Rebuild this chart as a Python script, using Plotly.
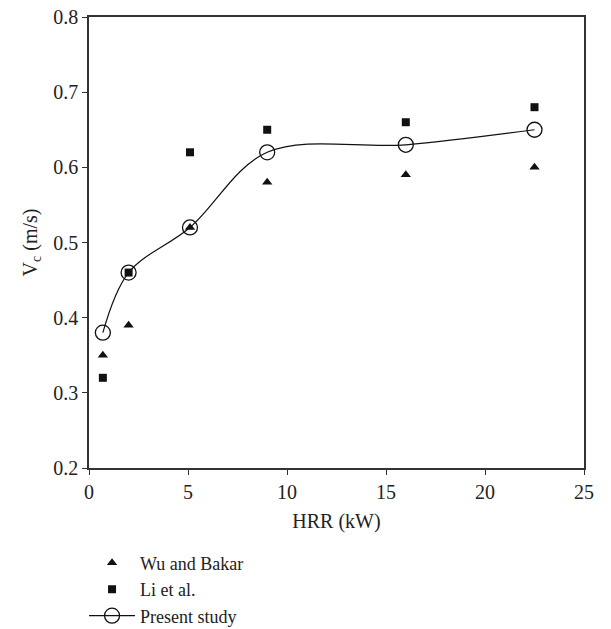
import plotly.graph_objects as go

hrr = [0.7, 2.0, 5.1, 9.0, 16.0, 22.5]
wu_bakar = [0.35, 0.39, 0.52, 0.58, 0.59, 0.60]
li_et_al = [0.32, 0.46, 0.62, 0.65, 0.66, 0.68]
present = [0.38, 0.46, 0.52, 0.62, 0.63, 0.65]

FONT = "Liberation Serif, Times New Roman, DejaVu Serif, serif"
TXT = "#222"
FS = 20
fig = go.Figure()
fig.add_trace(go.Scatter(x=hrr, y=wu_bakar, mode="markers", name="Wu and Bakar",
                         marker=dict(symbol="triangle-up", size=9, color="#111")))
fig.add_trace(go.Scatter(x=hrr, y=li_et_al, mode="markers", name="Li et al.",
                         marker=dict(symbol="square", size=8, color="#111")))
fig.add_trace(go.Scatter(x=hrr, y=present, mode="lines+markers", name="Present study",
                         line=dict(shape="spline", smoothing=1.0, color="#111", width=1.2),
                         marker=dict(symbol="circle-open", size=15, color="#111",
                                     line=dict(width=1.3))))

axis_common = dict(showline=True, linecolor="#333", linewidth=1.5, mirror=True,
                   ticks="outside", ticklen=5, tickcolor="#333", showgrid=False,
                   zeroline=False, tickfont=dict(family=FONT, size=FS, color=TXT))
fig.update_xaxes(range=[0, 25], dtick=5,
                 title=dict(text="HRR (kW)", font=dict(family=FONT, size=FS, color=TXT), standoff=12),
                 **axis_common)
fig.update_yaxes(range=[0.2, 0.8], dtick=0.1, tickformat=".1f",
                 title=dict(text="V<sub>c</sub> (m/s)", font=dict(family=FONT, size=FS, color=TXT), standoff=10),
                 **axis_common)

fig.update_layout(
    width=611, height=629,
    margin=dict(l=89, r=27, t=17, b=161, autoexpand=False),
    plot_bgcolor="white", paper_bgcolor="white",
    font=dict(family=FONT, size=FS, color=TXT),
    legend=dict(x=-0.010, y=-0.17, xanchor="left", yanchor="top",
                font=dict(family=FONT, size=18, color=TXT),
                tracegroupgap=0, itemwidth=46, bgcolor="rgba(0,0,0,0)"),
)
fig.write_html("out.html")
